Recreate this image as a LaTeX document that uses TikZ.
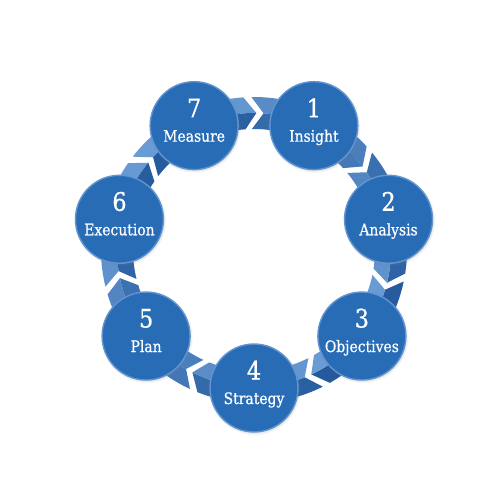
\documentclass[tikz,border=0pt]{standalone}
\usepackage{fontspec}
\setmainfont{DejaVu Serif}[FakeStretch=0.88,FakeBold=0.7]
\usetikzlibrary{shadows}

\definecolor{stageblue}{RGB}{40,108,182}
\definecolor{rimblue}{RGB}{98,148,208}
\definecolor{ringlight}{RGB}{112,162,218}
\definecolor{ringdark}{RGB}{30,84,152}

\tikzset{
  stage/.style={circle,fill=stageblue,draw=rimblue,line width=0.8pt,
    minimum size=1.76cm,inner sep=0pt,
    circular drop shadow={shadow scale=1.05,opacity=0.4,shadow xshift=0.3pt,shadow yshift=-0.6pt}},
  num/.style={anchor=base,yshift=0.17cm,text=white,font=\fontsize{14.5}{14.5}\selectfont},
  lab/.style={anchor=base,yshift=-0.32cm,text=white,font=\fontsize{9}{10}\selectfont}
}

\begin{document}
\begin{tikzpicture}[x=0.02cm,y=0.02cm]
  \useasboundingbox (-254,-250) rectangle (246,250);

  % ring of chevron pieces, one under each stage
  \foreach \ang in {64.29,12.86,-38.57,-90,-141.43,-192.86,-244.29} {
    \pgfmathsetmacro\ta{\ang+26.71}
    \pgfmathsetmacro\tn{\ang+21.71}
    \pgfmathsetmacro\hb{\ang-21.71}
    \pgfmathsetmacro\hp{\ang-26.71}
    \pgfmathtruncatemacro\sa{50+42*cos(\ang+13-135)}
    \pgfmathtruncatemacro\sb{50+42*cos(\ang-13-135)}
    \pgfmathtruncatemacro\sc{100-\sa}
    \pgfmathtruncatemacro\sd{100-\sb}
    % tail half (notch)
    \fill[ringlight!\sa!ringdark] (\ta:153) arc[start angle=\ta,end angle=\ang,radius=153]
      -- (\ang:137) arc[start angle=\ang,end angle=\tn,radius=137] -- cycle;
    \fill[ringlight!\sc!ringdark] (\ta:121) arc[start angle=\ta,end angle=\ang,radius=121]
      -- (\ang:137) arc[start angle=\ang,end angle=\tn,radius=137] -- cycle;
    % head half (point)
    \fill[ringlight!\sb!ringdark] (\ang:153) arc[start angle=\ang,end angle=\hb,radius=153]
      -- (\hp:137) arc[start angle=\hp,end angle=\ang,radius=137] -- cycle;
    \fill[ringlight!\sd!ringdark] (\ang:121) arc[start angle=\ang,end angle=\hb,radius=121]
      -- (\hp:137) arc[start angle=\hp,end angle=\ang,radius=137] -- cycle;
  }

  \node[stage] (insight) at (64.29:138) {};
  \node[stage] (analysis) at (12.86:138) {};
  \node[stage] (objectives) at (-38.57:138) {};
  \node[stage] (strategy) at (-90:138) {};
  \node[stage] (plan) at (-141.43:138) {};
  \node[stage] (execution) at (-192.86:138) {};
  \node[stage] (measure) at (-244.29:138) {};

  \node[num] at (insight) {1};
  \node[lab] at (insight) {Insight};
  \node[num] at (analysis) {2};
  \node[lab] at (analysis) {Analysis};
  \node[num] at (objectives) {3};
  \node[lab] at (objectives) {Objectives};
  \node[num] at (strategy) {4};
  \node[lab] at (strategy) {Strategy};
  \node[num] at (plan) {5};
  \node[lab] at (plan) {Plan};
  \node[num] at (execution) {6};
  \node[lab] at (execution) {Execution};
  \node[num] at (measure) {7};
  \node[lab] at (measure) {Measure};

\end{tikzpicture}
\end{document}
